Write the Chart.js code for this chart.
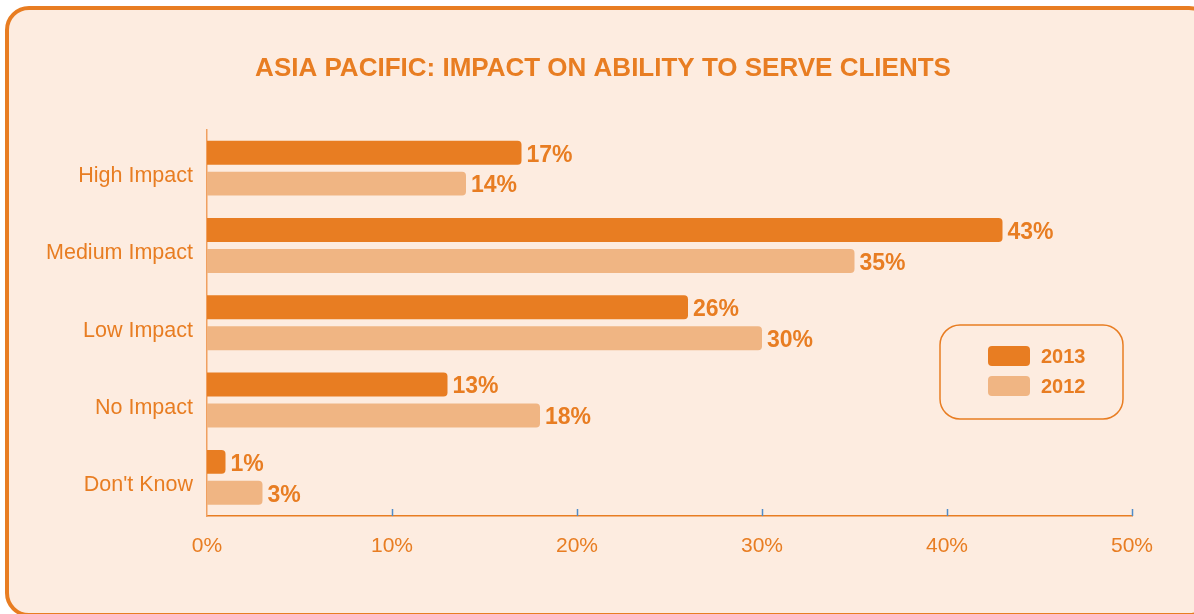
<!DOCTYPE html>
<html>
<head>
<meta charset="utf-8">
<script src="https://cdn.jsdelivr.net/npm/chart.js@4"></script>
<style>
  html, body { margin: 0; padding: 0; background: #ffffff; }
  body { width: 1194px; height: 614px; position: relative; overflow: hidden; }
  .card {
    position: absolute; left: 5px; top: 6px; width: 1200px; height: 603px;
    border: 4px solid #e87d22; border-radius: 24px; background: #fdece0;
  }
  #wrap { position: absolute; left: 0; top: 0; width: 1194px; height: 614px; }
</style>
</head>
<body>
<div class="card"></div>
<div id="wrap"><canvas id="impactChart"></canvas></div>
<script>
// chart values
var categories = ['High Impact', 'Medium Impact', 'Low Impact', 'No Impact', "Don't Know"];
var values2013 = [17, 43, 26, 13, 1];
var values2012 = [14, 35, 30, 18, 3];
var seriesNames = ['2013', '2012'];
var xTicks = [0, 10, 20, 30, 40, 50];

var orange = '#e87d22';
var lightOrange = '#f0b583';
var fontFamily = '"Liberation Sans", Arial, Helvetica, sans-serif';

function roundRect(ctx, x, y, w, h, r) {
    ctx.beginPath();
    ctx.moveTo(x + r, y);
    ctx.lineTo(x + w - r, y);
    ctx.arcTo(x + w, y, x + w, y + r, r);
    ctx.lineTo(x + w, y + h - r);
    ctx.arcTo(x + w, y + h, x + w - r, y + h, r);
    ctx.lineTo(x + r, y + h);
    ctx.arcTo(x, y + h, x, y + h - r, r);
    ctx.lineTo(x, y + r);
    ctx.arcTo(x, y, x + r, y, r);
    ctx.closePath();
}

// value labels at bar ends
var valueLabels = {
    id: 'valueLabels',
    afterDatasetsDraw: function (chart) {
        var ctx = chart.ctx;
        ctx.save();
        ctx.font = 'bold 23px ' + fontFamily;
        ctx.fillStyle = orange;
        ctx.textBaseline = 'middle';
        ctx.textAlign = 'left';
        chart.data.datasets.forEach(function (ds, i) {
            chart.getDatasetMeta(i).data.forEach(function (bar, j) {
                ctx.fillText(ds.data[j] + '%', bar.x + 5, bar.y + 2.5);
            });
        });
        ctx.restore();
    }
};

// small blue tick marks pointing up from the x axis
var axisMarks = {
    id: 'axisMarks',
    afterDraw: function (chart) {
        var ctx = chart.ctx;
        var xs = chart.scales.x;
        var yBottom = chart.chartArea.bottom;
        ctx.save();
        ctx.strokeStyle = '#4f8cc9';
        ctx.lineWidth = 1.5;
        xTicks.forEach(function (v) {
            if (v === 0) return;
            var px = Math.round(xs.getPixelForValue(v)) + 0.5;
            ctx.beginPath();
            ctx.moveTo(px, yBottom - 7);
            ctx.lineTo(px, yBottom);
            ctx.stroke();
        });
        ctx.restore();
    }
};

// boxed legend inside the plot
var boxLegend = {
    id: 'boxLegend',
    afterDraw: function (chart) {
        var ctx = chart.ctx;
        ctx.save();
        ctx.strokeStyle = orange;
        ctx.lineWidth = 1.5;
        roundRect(ctx, 940, 325, 183, 94, 20);
        ctx.stroke();
        ctx.font = 'bold 20px ' + fontFamily;
        ctx.textBaseline = 'middle';
        chart.data.datasets.forEach(function (ds, i) {
            var y = 346 + i * 30;
            ctx.fillStyle = ds.backgroundColor;
            roundRect(ctx, 988, y, 42, 20, 4);
            ctx.fill();
            ctx.fillStyle = orange;
            ctx.fillText(ds.label, 1041, y + 11);
        });
        ctx.restore();
    }
};

var ctx = document.getElementById('impactChart').getContext('2d');
var impactChart = new Chart(ctx, {
    type: 'bar',
    data: {
        labels: categories,
        datasets: [{
            label: seriesNames[0],
            data: values2013,
            backgroundColor: orange,
            borderRadius: 4,
            borderSkipped: 'start',
            categoryPercentage: 0.8,
            barPercentage: 0.774
        }, {
            label: seriesNames[1],
            data: values2012,
            backgroundColor: lightOrange,
            borderRadius: 4,
            borderSkipped: 'start',
            categoryPercentage: 0.8,
            barPercentage: 0.774
        }]
    },
    options: {
        indexAxis: 'y',
        responsive: true,
        maintainAspectRatio: false,
        animation: false,
        layout: { padding: { left: 12, right: 0, top: 0, bottom: 0 } },
        plugins: {
            legend: { display: false },
            tooltip: { enabled: false },
            title: {
                display: true,
                text: 'ASIA PACIFIC: IMPACT ON ABILITY TO SERVE CLIENTS',
                color: orange,
                font: { family: fontFamily, size: 26, weight: 'bold' },
                padding: { top: 53, bottom: 45.3 }
            }
        },
        scales: {
            x: {
                min: 0,
                max: 50,
                afterBuildTicks: function (scale) {
                    scale.ticks = xTicks.map(function (v) { return { value: v }; });
                },
                afterFit: function (scale) {
                    scale.height = 98;
                    scale.paddingRight = 62;
                },
                grid: { display: false, drawTicks: false },
                border: { display: true, color: orange, width: 1.5 },
                ticks: {
                    color: orange,
                    padding: 18,
                    font: { family: fontFamily, size: 21 },
                    callback: function (v) { return v + '%'; }
                }
            },
            y: {
                afterFit: function (scale) { scale.width = 195; },
                grid: { display: false, drawTicks: false },
                border: { display: true, color: '#f0a060', width: 1.5 },
                ticks: {
                    color: orange,
                    padding: 14,
                    labelOffset: 8,
                    font: { family: fontFamily, size: 21.5 }
                }
            }
        }
    },
    plugins: [valueLabels, axisMarks, boxLegend]
});
</script>
</body>
</html>
